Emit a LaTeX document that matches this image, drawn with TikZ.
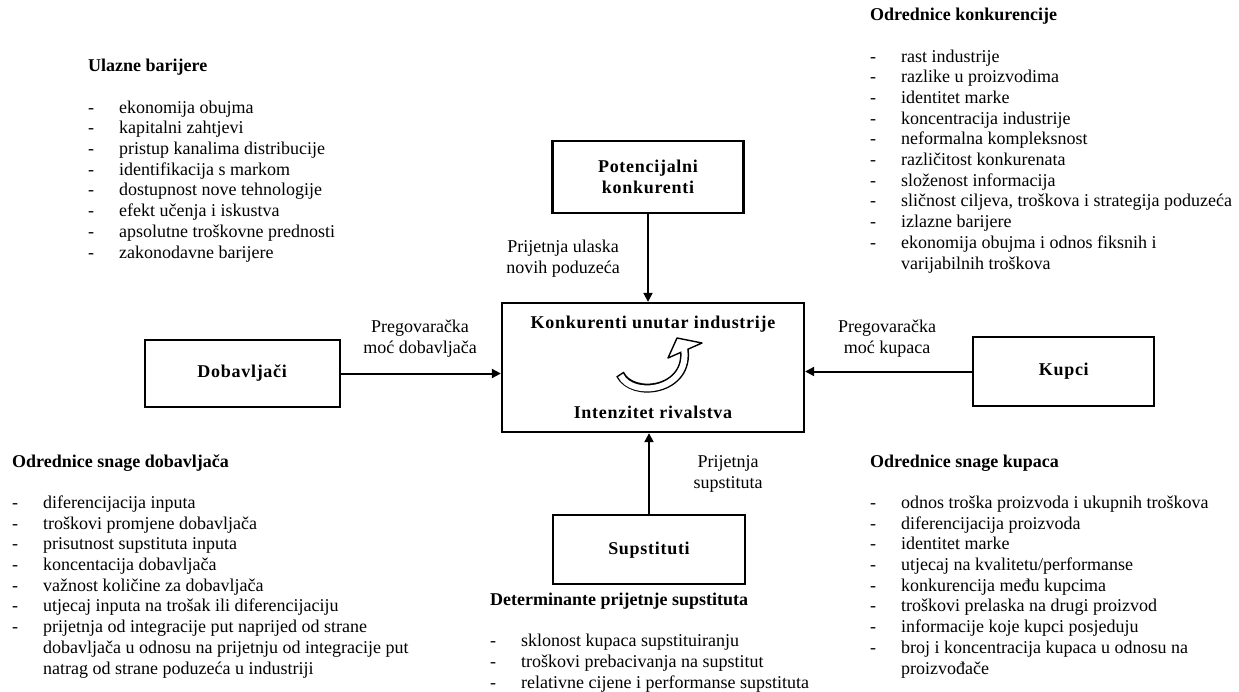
\documentclass[tikz,border=0pt]{standalone}
\usepackage{fontspec}
\setmainfont{Liberation Serif}
\usetikzlibrary{arrows.meta,positioning}
\newcommand{\txt}{\fontsize{18}{20.7}\selectfont}
\newcommand{\itm}[1]{\makebox[31pt][l]{-}#1}
\newcommand{\cnt}[1]{\hspace*{31pt}#1}
\tikzset{
  force/.style={draw,line width=2.3pt,font=\txt\bfseries\addfontfeature{LetterSpace=4},align=center,inner sep=0pt},
  flow/.style={-{Triangle[length=9pt,width=9pt]},line width=2pt},
  lbl/.style={font=\txt,align=center,inner sep=0pt,anchor=base},
  lst/.style={font=\txt,align=left,inner sep=0pt,anchor=base west},
}

\begin{document}
\begin{tikzpicture}[x=1pt,y=-1pt]
\useasboundingbox (0,0) rectangle (1239,691);
% the five forces
\node[force,minimum width=302pt,minimum height=129pt] (rival) at (653,367.5) {};
\node[force,minimum width=191pt,minimum height=72pt,above=88pt of rival,xshift=-5pt] (pot) {Potencijalni\\konkurenti};
\node[force,minimum width=192pt,minimum height=69pt,below=81pt of rival,xshift=-4pt] (sup) {Supstituti};
\node[force,minimum width=195pt,minimum height=67pt,left=160pt of rival,yshift=-6pt] (dob) {Dobavljači};
\node[force,minimum width=181pt,minimum height=69pt,right=167pt of rival,yshift=-4pt] (kup) {Kupci};
\node[lbl,font=\txt\bfseries\addfontfeature{LetterSpace=4}] (rtop) at ([yshift=-27pt]rival.north) {Konkurenti unutar industrije};
\node[lbl,font=\txt\bfseries\addfontfeature{LetterSpace=4}] (rbot) at ([yshift=15pt]rival.south) {Intenzitet rivalstva};
% curl
\draw[line width=9pt] (620,374) .. controls (632,399) and (691,391) .. (684,348);
\draw[fill=white,line width=1.4pt,line join=round] (668,358) -- (677,338) -- (702,343) -- cycle;
\draw[white,line width=6pt,shorten <=1.5pt] (620,374) .. controls (632,399) and (691,391) .. (684,348);
% arrows
\draw[flow] (pot) -- (pot |- rival.north);
\draw[flow] (sup) -- (sup |- rival.south);
\draw[flow] (dob) -- (dob -| rival.west);
\draw[flow] (kup) -- (kup -| rival.east);
% arrow labels (anchored at the last line)
\node[lbl] (ulaz) at (563,273) {Prijetnja ulaska\\novih poduzeća};
\node[lbl] (pdob) at (420,353) {Pregovaračka\\moć dobavljača};
\node[lbl] (pkup) at (887,353) {Pregovaračka\\moć kupaca};
\node[lbl] (psup) at (728,488) {Prijetnja\\supstituta};
% lists (anchored at the last line)
\node[lst] (bar) at (88,258) {\textbf{Ulazne barijere}\\[20.7pt]
\itm{ekonomija obujma}\\
\itm{kapitalni zahtjevi}\\
\itm{pristup kanalima distribucije}\\
\itm{identifikacija s markom}\\
\itm{dostupnost nove tehnologije}\\
\itm{efekt učenja i iskustva}\\
\itm{apsolutne troškovne prednosti}\\
\itm{zakonodavne barijere}};
\node[lst] (konk) at (870,269) {\textbf{Odrednice konkurencije}\\[20.7pt]
\itm{rast industrije}\\
\itm{razlike u proizvodima}\\
\itm{identitet marke}\\
\itm{koncentracija industrije}\\
\itm{neformalna kompleksnost}\\
\itm{različitost konkurenata}\\
\itm{složenost informacija}\\
\itm{sličnost ciljeva, troškova i strategija poduzeća}\\
\itm{izlazne barijere}\\
\itm{ekonomija obujma i odnos fiksnih i}\\
\cnt{varijabilnih troškova}};
\node[lst] (sdob) at (12,674) {\textbf{Odrednice snage dobavljača}\\[20.7pt]
\itm{diferencijacija inputa}\\
\itm{troškovi promjene dobavljača}\\
\itm{prisutnost supstituta inputa}\\
\itm{koncentacija dobavljača}\\
\itm{važnost količine za dobavljača}\\
\itm{utjecaj inputa na trošak ili diferencijaciju}\\
\itm{prijetnja od integracije put naprijed od strane}\\
\cnt{dobavljača u odnosu na prijetnju od integracije put}\\
\cnt{natrag od strane poduzeća u industriji}};
\node[lst] (skup) at (870,674) {\textbf{Odrednice snage kupaca}\\[20.7pt]
\itm{odnos troška proizvoda i ukupnih troškova}\\
\itm{diferencijacija proizvoda}\\
\itm{identitet marke}\\
\itm{utjecaj na kvalitetu/performanse}\\
\itm{konkurencija među kupcima}\\
\itm{troškovi prelaska na drugi proizvod}\\
\itm{informacije koje kupci posjeduju}\\
\itm{broj i koncentracija kupaca u odnosu na}\\
\cnt{proizvođače}};
\node[lst] (det) at (490,688) {\textbf{Determinante prijetnje supstituta}\\[20.7pt]
\itm{sklonost kupaca supstituiranju}\\
\itm{troškovi prebacivanja na supstitut}\\
\itm{relativne cijene i performanse supstituta}};
\end{tikzpicture}
\end{document}
